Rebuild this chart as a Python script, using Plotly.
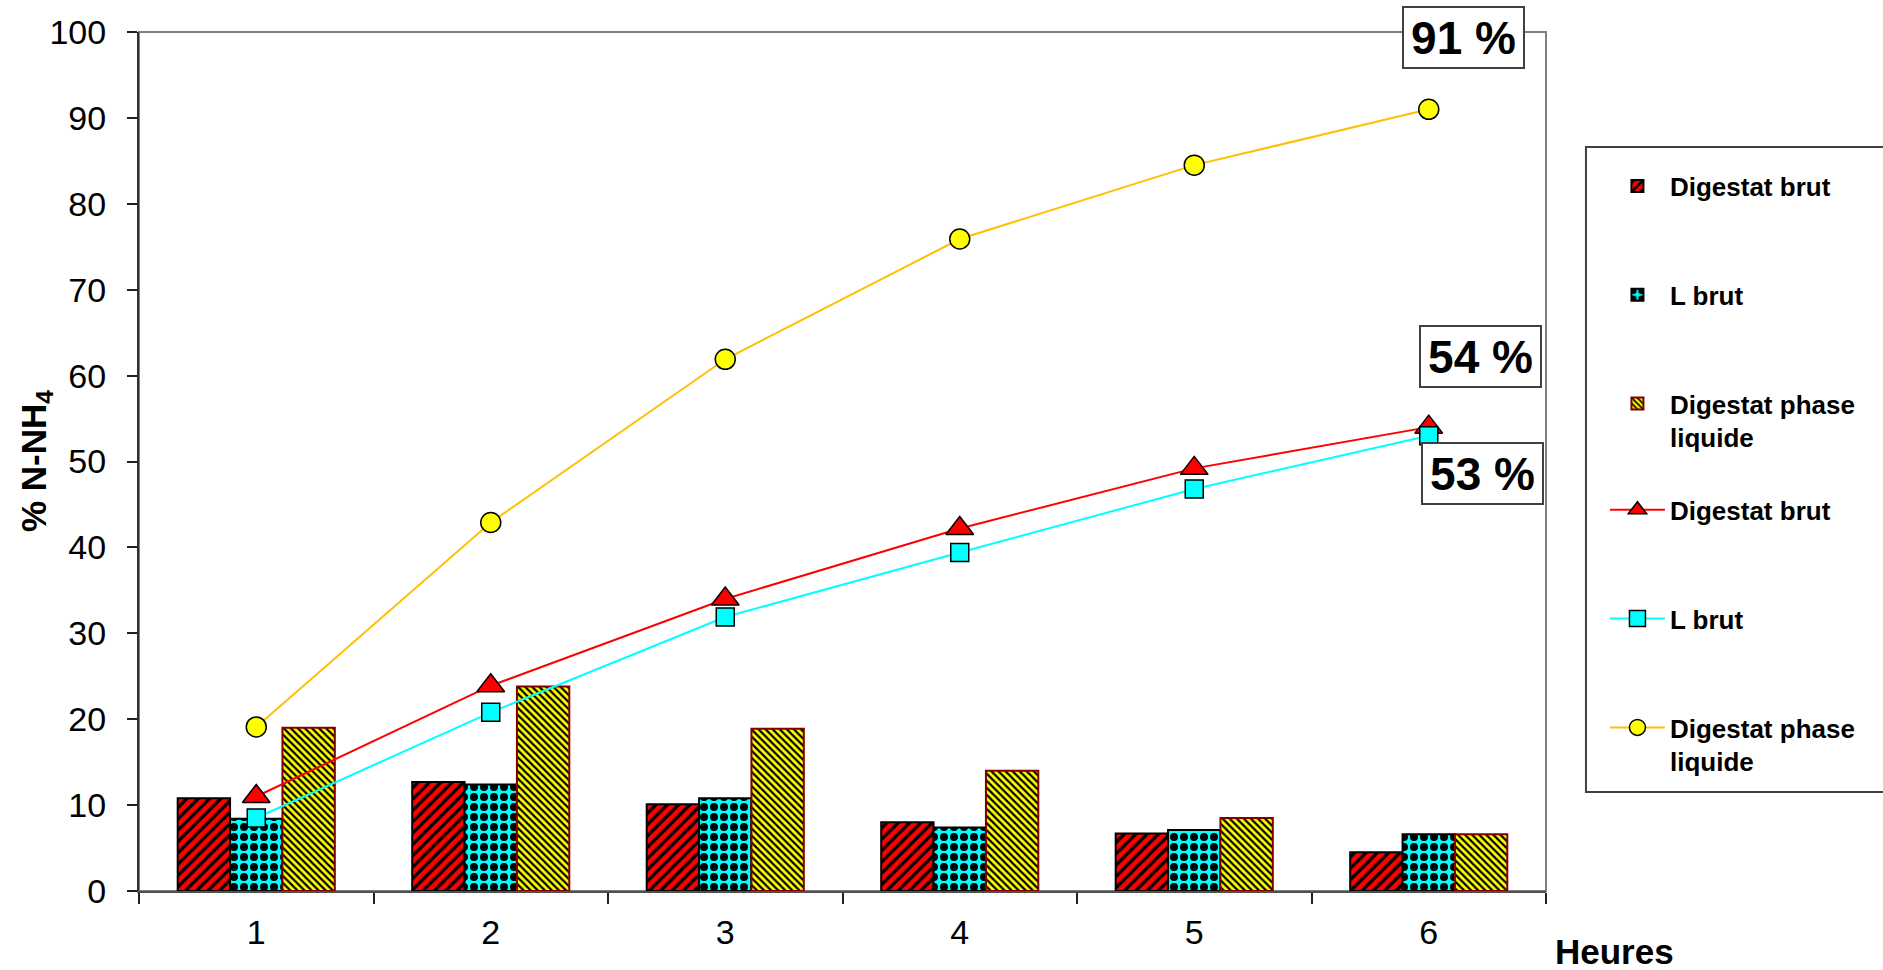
import plotly.graph_objects as go

# Heures de traitement
hours = ["1", "2", "3", "4", "5", "6"]

# Barres : % N-NH4 par heure
bar_digestat_brut = [10.8, 12.7, 10.1, 8.0, 6.7, 4.5]
bar_l_brut = [8.4, 12.4, 10.8, 7.4, 7.1, 6.6]
bar_phase_liquide = [19.0, 23.8, 18.9, 14.0, 8.5, 6.6]

# Courbes : % N-NH4 cumulé
cum_digestat_brut = [11.0, 23.9, 34.0, 42.2, 49.2, 54]
cum_l_brut = [8.5, 20.8, 31.9, 39.4, 46.8, 53]
cum_phase_liquide = [19.1, 42.9, 61.9, 75.9, 84.5, 91]

FONT = "Liberation Sans, Arial, sans-serif"
LBL_PHASE = "Digestat phase<br>liquide"

fig = go.Figure()

bar_styles = [
    ("Digestat brut", bar_digestat_brut, "#FF0000", "/", 8, 0.4, "#000000"),
    ("L brut", bar_l_brut, "#00FFFF", ".", 10, 0.5, "#000000"),
    (LBL_PHASE, bar_phase_liquide, "#FFFF00", "\\", 5, 0.45, "#800000"),
]
for i, (name, vals, col, shape, size, sol, edge) in enumerate(bar_styles):
    fig.add_trace(go.Bar(
        x=hours, y=vals, name=name, legend="legend", legendgroup=f"b{i}",
        marker=dict(color=col, line=dict(color=edge, width=2),
                    pattern=dict(shape=shape, size=size, solidity=sol,
                                 fgcolor="#000000", bgcolor=col, fillmode="replace")),
    ))

line_styles = [
    ("Digestat brut", cum_digestat_brut, "#FF0000", "#FF0000", "triangle-up", 24),
    ("L brut", cum_l_brut, "#00FFFF", "#00FFFF", "square", 18),
    (LBL_PHASE, cum_phase_liquide, "#FFC000", "#FFFF00", "circle", 20),
]
for i, (name, vals, lcol, mcol, sym, msize) in enumerate(line_styles):
    fig.add_trace(go.Scatter(
        x=hours, y=vals, name=name, mode="lines+markers", legend="legend2",
        legendgroup=f"l{i}",
        line=dict(color=lcol, width=2),
        marker=dict(symbol=sym, size=msize, color=mcol,
                    line=dict(color="#000000", width=1.5)),
    ))

# Étiquettes des valeurs finales (ancrées sur le dernier point, par index de catégorie)
last_idx = len(hours) - 1
final_labels = [
    (cum_phase_liquide[-1], 35, 72),
    (cum_digestat_brut[-1], 52, 71),
    (cum_l_brut[-1], 54, -38),
]
for val, xs, ys in final_labels:
    fig.add_annotation(
        x=last_idx, y=val, xref="x", yref="y", text=f"<b>{val:.0f} %</b>",
        showarrow=False, xshift=xs, yshift=ys,
        font=dict(family=FONT, size=46, color="#000000"),
        bgcolor="#FFFFFF", bordercolor="#404040", borderwidth=2, borderpad=2,
        width=115, height=55,
    )

# Titres des axes
fig.add_annotation(
    x=-0.0735, y=0.5, xref="paper", yref="paper", text="<b>% N-NH<sub>4</sub></b>",
    textangle=-90, showarrow=False, xanchor="center", yanchor="middle",
    font=dict(family=FONT, size=35, color="#000000"),
)
fig.add_annotation(
    x=1.049, y=-0.071, xref="paper", yref="paper", text="<b>Heures</b>",
    showarrow=False, xanchor="center", yanchor="middle",
    font=dict(family=FONT, size=35, color="#000000"),
)

# Cadre de la zone de tracé et cadre de la légende
fig.add_shape(type="rect", xref="paper", yref="paper", x0=0, y0=0, x1=1, y1=1,
              line=dict(color="#808080", width=2), layer="below")
fig.add_shape(type="rect", xref="paper", yref="paper",
              x0=1.0284, x1=1.2445, y0=0.1152, y1=0.8661,
              line=dict(color="#404040", width=2), fillcolor="rgba(0,0,0,0)",
              layer="below")

legend_common = dict(
    xanchor="left", yanchor="top", bgcolor="rgba(0,0,0,0)", borderwidth=0,
    font=dict(family=FONT, size=26, color="#000000", weight="bold"),
    traceorder="grouped", tracegroupgap=72, itemwidth=55, valign="top",
)

fig.update_layout(
    width=1883, height=970,
    margin=dict(l=139, r=337, t=32, b=79),
    paper_bgcolor="#FFFFFF", plot_bgcolor="#FFFFFF",
    barmode="group", bargap=0.33, bargroupgap=0,
    font=dict(family=FONT, size=34, color="#000000"),
    legend=dict(x=1.0419, y=0.848, **legend_common),
    legend2=dict(x=1.0419, y=0.471, **legend_common),
    xaxis=dict(
        type="category", range=[-0.5, 5.5], autorange=False,
        tickson="boundaries", ticks="outside", ticklen=11,
        tickwidth=2, tickcolor="#202020", showline=True, linecolor="#505050",
        linewidth=2, showgrid=False, zeroline=False,
        tickfont=dict(family=FONT, size=34), ticklabelstandoff=10,
    ),
    yaxis=dict(
        range=[0, 100], autorange=False, dtick=10, ticks="outside", ticklen=10,
        tickwidth=2, tickcolor="#202020", showline=True, linecolor="#303030",
        linewidth=2, showgrid=False, zeroline=False,
        tickfont=dict(family=FONT, size=34), ticklabelstandoff=14,
    ),
    xaxis2=dict(
        overlaying="x", anchor="y", side="bottom", range=[-0.5, 5.5],
        autorange=False, tick0=-0.5, dtick=1, ticks="inside", ticklen=10,
        tickwidth=2, tickcolor="#202020", showticklabels=False, showline=False,
        showgrid=False, zeroline=False,
    ),
    yaxis2=dict(
        overlaying="y", anchor="x", side="left", range=[0, 100], autorange=False,
        dtick=10, ticks="inside", ticklen=10, tickwidth=2, tickcolor="#202020",
        showticklabels=False, showline=False, showgrid=False, zeroline=False,
    ),
)

fig.write_html("out.html")
